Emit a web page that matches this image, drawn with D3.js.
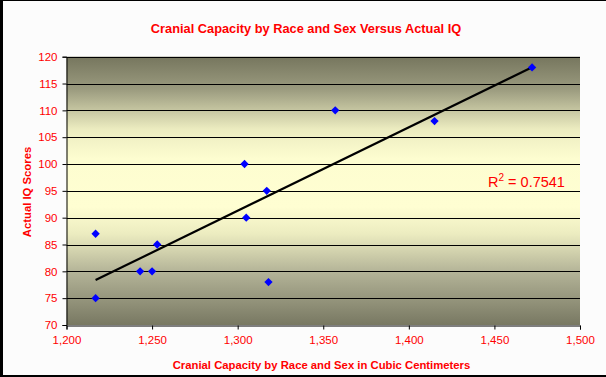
<!DOCTYPE html>
<html><head><meta charset="utf-8">
<script src="https://cdn.jsdelivr.net/npm/d3@7"></script>
<style>
html,body{margin:0;padding:0;background:#fcfcfc;overflow:hidden;}
svg{display:block;font-family:Arial,"Liberation Sans",sans-serif;}
</style></head>
<body>
<script>
const title = "Cranial Capacity by Race and Sex Versus Actual IQ";
const xTitle = "Cranial Capacity by Race and Sex in Cubic Centimeters";
const yTitle = "Actual IQ Scores";
const cranialCC = [1217, 1217, 1243, 1250, 1253, 1304, 1305, 1317, 1318, 1357, 1415, 1472];
const iqScores  = [87, 75, 80, 80, 85, 100, 90, 95, 78, 110, 108, 118];
const xTicks = [1200, 1250, 1300, 1350, 1400, 1450, 1500];
const yTicks = [70, 75, 80, 85, 90, 95, 100, 105, 110, 115, 120];
const r2Label = "0.7541";

const W = 606, H = 377;
const m = {left: 66.5, right: 26, top: 56.7, bottom: 52};
const svg = d3.select("body").append("svg").attr("width", W).attr("height", H);

svg.append("rect").attr("width", W).attr("height", H).attr("fill", "#fcfcfc");

const x = d3.scaleLinear().domain([1200, 1500]).range([m.left, W - m.right]);
const y = d3.scaleLinear().domain([70, 120]).range([H - m.bottom, m.top]);

const defs = svg.append("defs");
const grad = defs.append("linearGradient").attr("id", "bg").attr("x1", 0).attr("y1", 0).attr("x2", 0).attr("y2", 1);
[[0, "#76765e"], [0.12, "#9a9a7e"], [0.27, "#ececc0"], [0.38, "#fdfdd0"], [0.56, "#fffed2"], [0.66, "#ececc0"], [0.8, "#b4b498"], [1, "#787862"]]
  .forEach(([o, c]) => grad.append("stop").attr("offset", o).attr("stop-color", c));

svg.append("rect")
  .attr("x", x(1200)).attr("y", y(120))
  .attr("width", x(1500) - x(1200)).attr("height", y(70) - y(120))
  .attr("fill", "url(#bg)");

// gridlines
svg.append("g").selectAll("line").data(yTicks.filter(d => d > 70)).join("line")
  .attr("x1", x(1200)).attr("x2", x(1500))
  .attr("y1", d => Math.round(y(d)) + 0.5).attr("y2", d => Math.round(y(d)) + 0.5)
  .attr("stroke", "#000").attr("stroke-width", 1);

// axes
const yAxis = svg.append("g").attr("transform", `translate(${Math.round(x(1200)) - 0.5},0)`)
  .call(d3.axisLeft(y).tickValues(yTicks).tickSize(4).tickPadding(5).tickFormat(d3.format("d")));
const xAxis = svg.append("g").attr("transform", `translate(0,${Math.round(y(70)) + 0.5})`)
  .call(d3.axisBottom(x).tickValues(xTicks).tickSize(4).tickPadding(6).tickFormat(d3.format(",")));
[yAxis, xAxis].forEach(g => {
  g.select(".domain").attr("stroke", "#000");
  g.selectAll(".tick line").attr("stroke", "#000");
  g.selectAll("text").attr("fill", "#ff0000").attr("font-size", 11.5).attr("font-family", "Arial, 'Liberation Sans', sans-serif");
});

// trendline (linear regression)
const n = cranialCC.length;
const mx = d3.mean(cranialCC), my = d3.mean(iqScores);
let sxy = 0, sxx = 0;
for (let i = 0; i < n; i++) { sxy += (cranialCC[i] - mx) * (iqScores[i] - my); sxx += (cranialCC[i] - mx) ** 2; }
const slope = sxy / sxx, intercept = my - slope * mx;
const x0 = d3.min(cranialCC), x1 = d3.max(cranialCC);
svg.append("line")
  .attr("x1", x(x0)).attr("y1", y(intercept + slope * x0))
  .attr("x2", x(x1)).attr("y2", y(intercept + slope * x1))
  .attr("stroke", "#000").attr("stroke-width", 2.2);

// markers
svg.append("g").selectAll("path").data(cranialCC.map((c, i) => [c, iqScores[i]])).join("path")
  .attr("d", d3.symbol(d3.symbolDiamond2, 44))
  .attr("transform", d => `translate(${x(d[0])},${y(d[1])})`)
  .attr("fill", "#0000ff");

// R² label
const rt = svg.append("text").attr("x", 488).attr("y", 187).attr("fill", "#ff0000").attr("font-size", 14.5);
rt.append("tspan").text("R");
rt.append("tspan").attr("dy", -6).attr("font-size", 10).text("2");
rt.append("tspan").attr("dy", 6).text(" = " + r2Label);

// titles
svg.append("text").attr("x", 306).attr("y", 33).attr("text-anchor", "middle")
  .attr("fill", "#ff0000").attr("font-weight", "bold").attr("font-size", 12.8).text(title);
svg.append("text").attr("x", 321.5).attr("y", 368.5).attr("text-anchor", "middle")
  .attr("fill", "#ff0000").attr("font-weight", "bold").attr("font-size", 11.3).text(xTitle);
svg.append("text").attr("transform", "translate(31,192) rotate(-90)").attr("text-anchor", "middle")
  .attr("fill", "#ff0000").attr("font-weight", "bold").attr("font-size", 11.3).text(yTitle);

// outer frame
svg.append("rect").attr("x", 0).attr("y", 0).attr("width", 3).attr("height", H).attr("fill", "#000");
svg.append("rect").attr("x", 0).attr("y", 0).attr("width", W).attr("height", 1).attr("fill", "#000");
svg.append("rect").attr("x", 0).attr("y", H - 2).attr("width", W).attr("height", 2).attr("fill", "#000");
</script>
</body></html>
